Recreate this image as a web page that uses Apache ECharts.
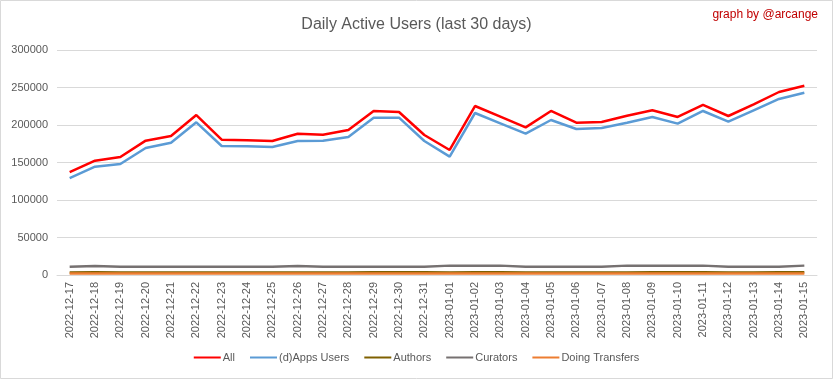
<!DOCTYPE html>
<html>
<head>
<meta charset="utf-8">
<script src="https://cdn.jsdelivr.net/npm/echarts@6/dist/echarts.min.js"></script>
<style>
html,body{margin:0;padding:0;background:#fff;}
#chart{width:833px;height:379px;}
</style>
</head>
<body>
<div id="chart"></div>
<script>
const categories = ["2022-12-17","2022-12-18","2022-12-19","2022-12-20","2022-12-21","2022-12-22","2022-12-23","2022-12-24","2022-12-25","2022-12-26","2022-12-27","2022-12-28","2022-12-29","2022-12-30","2022-12-31","2023-01-01","2023-01-02","2023-01-03","2023-01-04","2023-01-05","2023-01-06","2023-01-07","2023-01-08","2023-01-09","2023-01-10","2023-01-11","2023-01-12","2023-01-13","2023-01-14","2023-01-15"];
const allUsers = [137300,152400,157300,179100,185300,213300,180400,179600,178700,188400,187100,193300,218700,217300,186700,166700,225300,211100,196900,218700,203100,204000,212400,219600,210700,226700,212000,227600,244000,252400];
const appsUsers = [129300,144400,148000,169300,176400,203600,172000,171600,170700,178700,179100,184000,209800,209800,178700,157800,216000,202200,188400,206700,194700,196000,203100,210700,201800,218700,204400,219600,234700,243100];
const authors = [3500,3600,3500,3500,3500,3500,3400,3400,3400,3500,3500,3500,3800,3800,3700,3500,3600,3600,3500,3500,3500,3500,3500,3600,3600,3600,3500,3500,3600,3600];
const curators = [11000,12000,11000,11000,11000,11000,11000,11000,11000,12000,11000,11000,11000,11000,11000,12500,12500,12500,11000,11000,11000,11000,12500,12500,12500,12500,11000,11000,11000,12500];
const transfers = [2000,2000,2000,2000,2000,2000,2000,2000,2000,2000,2000,2000,1900,1900,1900,2000,2000,2000,2000,2000,2000,2000,2000,2000,2000,2000,2000,2000,2000,2000];
const yTicks = {min:0, max:300000, interval:50000};

const chart = echarts.init(document.getElementById('chart'), null, {renderer:'canvas'});
const font = '"Liberation Sans", Arial, sans-serif';
function mk(name, data, color, w){
  return {name, type:'line', data, symbol:'none', smooth:false,
    lineStyle:{color, width:w}, itemStyle:{color}, emphasis:{disabled:true}};
}
chart.setOption({
  animation:false,
  backgroundColor:'#ffffff',
  textStyle:{fontFamily:font},
  title:{text:'Daily Active Users (last 30 days)', left:'center', top:12,
    textStyle:{fontFamily:font, fontSize:16, fontWeight:'normal', color:'#595959'}},
  graphic:[
    {type:'text', right:15, top:9, style:{text:'graph by @arcange', fill:'#c00000', font:'12px '+font}},
    {type:'rect', shape:{x:0.5,y:0.5,width:832,height:378}, style:{fill:null, stroke:'#d9d9d9', lineWidth:1}, silent:true, z:-1}
  ],
  legend:{bottom:11, left:'center', icon:'rect', itemWidth:27, itemHeight:2, itemGap:15,
    textStyle:{fontFamily:font, fontSize:11, color:'#595959', padding:[0,0,0,-3]},
    data:['All','(d)Apps Users','Authors','Curators','Doing Transfers']},
  grid:{left:57, right:16, top:50, bottom:104, containLabel:false},
  xAxis:{type:'category', data:categories, boundaryGap:true,
    axisLine:{lineStyle:{color:'#d9d9d9'}}, axisTick:{show:false},
    axisLabel:{rotate:90, interval:0, fontSize:11, color:'#595959', fontFamily:font, margin:7}},
  yAxis:{type:'value', min:yTicks.min, max:yTicks.max, interval:yTicks.interval,
    axisLine:{show:false}, axisTick:{show:false},
    axisLabel:{fontSize:11, color:'#595959', fontFamily:font, margin:9, formatter:v => String(v)},
    splitLine:{lineStyle:{color:'#d9d9d9', width:1}}},
  series:[
    mk('All', allUsers, '#ff0000', 2.5),
    mk('(d)Apps Users', appsUsers, '#5b9bd5', 2.5),
    mk('Authors', authors, '#7f6000', 2.5),
    mk('Curators', curators, '#767171', 2.5),
    mk('Doing Transfers', transfers, '#ed7d31', 2.5)
  ]
});
</script>
</body>
</html>
